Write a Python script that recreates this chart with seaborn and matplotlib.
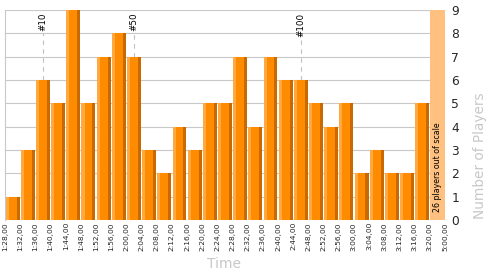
import numpy as np
import pandas as pd
import matplotlib
matplotlib.use("Agg")
import matplotlib.pyplot as plt
import seaborn as sns

# ---- data ----
bin_starts = ["1:28,00", "1:32,00", "1:36,00", "1:40,00", "1:44,00", "1:48,00", "1:52,00",
              "1:56,00", "2:00,00", "2:04,00", "2:08,00", "2:12,00", "2:16,00", "2:20,00",
              "2:24,00", "2:28,00", "2:32,00", "2:36,00", "2:40,00", "2:44,00", "2:48,00",
              "2:52,00", "2:56,00", "3:00,00", "3:04,00", "3:08,00", "3:12,00", "3:16,00"]
counts = [1, 3, 6, 5, 9, 5, 7, 8, 7, 3, 2, 4, 3, 5, 5, 7, 4, 7, 6, 6, 5, 4, 5, 2, 3, 2, 2, 5]
tick_labels = bin_starts + ["3:20,00", "5:00,00"]
out_of_scale_count = 26
marker_names = ["#10", "#50", "#100"]
marker_bins = ["1:36,00", "2:00,00", "2:44,00"]
y_max = 9

df = pd.DataFrame({"time": bin_starts, "count": counts})

# ---- style ----
sns.set_style("white")
plt.rcParams["font.family"] = ["DejaVu Sans"]

MAIN = "#FF8C00"
LIGHT = "#FFA940"
DARK = "#C86A00"
OUT = "#FFC080"
GRID = "#C8C8C8"
LABEL_GRAY = "#C8C8C8"

fig = plt.figure(figsize=(5, 2.75), dpi=100)
ax = fig.add_axes([5 / 500, 55 / 275, 440 / 500, 210 / 275])

bw = 0.92
sns.barplot(data=df, x="time", y="count", order=bin_starts, color=MAIN,
            saturation=1, width=bw, ax=ax, zorder=2, linewidth=0, edgecolor="none")

pos = np.arange(len(bin_starts))
strip = 0.2
ax.bar(pos - bw / 2, counts, width=strip, align="edge", color=LIGHT, lw=0, zorder=3)
ax.bar(pos + bw / 2 - strip, counts, width=strip, align="edge", color=DARK, lw=0, zorder=3)

# out-of-scale column
oos_pos = len(bin_starts)
ax.bar([oos_pos], [y_max], width=1.0, color=OUT, lw=0, zorder=2)
ax.text(oos_pos + 0.03, 0.34, f"{out_of_scale_count} players out of scale", rotation=90,
        ha="center", va="bottom", fontsize=5.7, color="black", zorder=4)

# markers
for name, b in zip(marker_names, marker_bins):
    i = bin_starts.index(b)
    ax.plot([i, i], [counts[i], 8.0], color="#C0C0C0", lw=0.8,
            dashes=(4, 4), zorder=1)
    ax.text(i, 8.88, name, rotation=90, ha="center", va="top", fontsize=6.3,
            color="black", zorder=4)

ax.set_xlim(-0.5, len(bin_starts) + 0.5)
ax.set_ylim(0, y_max)

ax.set_xticks(np.arange(len(tick_labels)) - 0.5)
ax.set_xticklabels(tick_labels, rotation=90, fontsize=5.4)
ax.tick_params(axis="x", length=0, pad=1.5)

ax.yaxis.tick_right()
ax.set_yticks(range(0, y_max + 1))
ax.tick_params(axis="y", length=0, pad=4.5, labelsize=8.8)

ax.yaxis.grid(True, color=GRID, lw=0.8)
ax.xaxis.grid(False)
ax.set_axisbelow(True)

for s in ["top", "right", "bottom"]:
    ax.spines[s].set_visible(False)
ax.spines["left"].set_color(GRID)
ax.spines["left"].set_linewidth(0.8)

ax.set_xlabel("")
ax.set_ylabel("")

fig.text(224 / 500, 1 - 264 / 275, "Time", ha="center", va="center",
         fontsize=10, color=LABEL_GRAY)
fig.text(480 / 500, 1 - 219 / 275, "Number of Players", rotation=90,
         ha="center", va="bottom", fontsize=9.8, color=LABEL_GRAY)

fig.savefig("out.png", dpi=100)
